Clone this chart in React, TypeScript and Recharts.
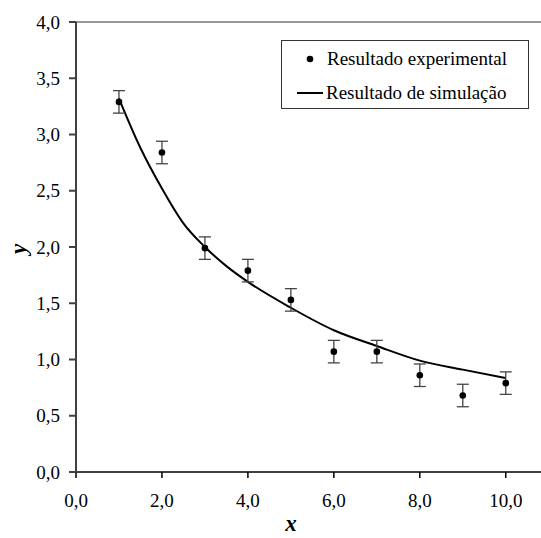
import React from 'react';
import { ComposedChart, Scatter, Line, XAxis, YAxis, ErrorBar, ReferenceLine, Label } from 'recharts';

// experimental points (x, y, error)
const expX = [1, 2, 3, 4, 5, 6, 7, 8, 9, 10];
const expY = [3.29, 2.84, 1.99, 1.79, 1.53, 1.07, 1.07, 0.86, 0.68, 0.79];
const expErr = [0.1, 0.1, 0.1, 0.1, 0.1, 0.1, 0.1, 0.1, 0.1, 0.1];

// simulation curve
const simX = [1, 1.5, 2, 2.5, 3, 3.5, 4, 5, 6, 7, 8, 9, 10];
const simY = [3.32, 2.88, 2.52, 2.21, 2.0, 1.83, 1.69, 1.46, 1.26, 1.12, 0.99, 0.91, 0.835];

const xTicks = [0, 2, 4, 6, 8, 10];
const yTicks = [0, 0.5, 1, 1.5, 2, 2.5, 3, 3.5, 4];

const FONT = '"Liberation Serif", Tinos, "DejaVu Serif", serif';

const expData = expX.map((x, i) => ({ x, y: expY[i], err: expErr[i] }));
const simData = simX.map((x, i) => ({ x, y: simY[i] }));

const fmt = (v: number) => v.toFixed(1).replace('.', ',');

const Dot = (props: any) => <circle cx={props.cx} cy={props.cy} r={3.3} fill="#000" />;

const LegendBox = () => (
  <div
    style={{
      position: 'absolute',
      left: 281,
      top: 40,
      width: 246,
      height: 67,
      border: '1px solid #333',
      background: '#fff',
      fontFamily: FONT,
      fontSize: 19,
      lineHeight: '22px',
      color: '#000',
    }}
  >
    <svg width={46} height={67} style={{ position: 'absolute', left: 0, top: 0 }}>
      <circle cx={28} cy={18} r={3.3} fill="#000" />
      <line x1={15} x2={41} y1={52} y2={52} stroke="#000" strokeWidth={2} />
    </svg>
    <div style={{ position: 'absolute', left: 45, top: 7, whiteSpace: 'nowrap' }}>Resultado experimental</div>
    <div style={{ position: 'absolute', left: 44, top: 41, whiteSpace: 'nowrap' }}>Resultado de simulação</div>
  </div>
);

export default function App() {
  return (
    <div style={{ position: 'absolute', left: 0, top: 0, width: 541, height: 538, background: '#fff', overflow: 'hidden' }}>
      <ComposedChart width={541} height={538} margin={{ top: 22, right: 0, bottom: 0, left: 0 }}>
        <XAxis
          dataKey="x"
          type="number"
          domain={[0, 10.82]}
          ticks={xTicks}
          tickFormatter={fmt}
          height={66}
          tickSize={6}
          tickMargin={16}
          stroke="#000"
          strokeWidth={1.5}
          tick={{ fill: '#000', fontSize: 19, fontFamily: FONT }}
          allowDataOverflow
        >
          <Label
            content={() => (
              <text x={291} y={531} textAnchor="middle" fontFamily={FONT} fontSize={23} fontWeight="bold" fontStyle="italic" fill="#000">
                x
              </text>
            )}
          />
        </XAxis>
        <YAxis
          type="number"
          domain={[0, 4]}
          ticks={yTicks}
          tickFormatter={fmt}
          width={76}
          tickSize={7}
          tickMargin={9}
          stroke="#404040"
          strokeWidth={2}
          tick={{ fill: '#000', fontSize: 19, fontFamily: FONT }}
        >
          <Label
            content={() => (
              <text x={26} y={249} transform="rotate(-90 26 249)" textAnchor="middle" fontFamily={FONT} fontSize={23} fontWeight="bold" fontStyle="italic" fill="#000">
                y
              </text>
            )}
          />
        </YAxis>
        <ReferenceLine y={4} stroke="#333" strokeWidth={1.2} />
        <Line
          data={simData}
          dataKey="y"
          type="monotone"
          stroke="#000"
          strokeWidth={2}
          dot={false}
          isAnimationActive={false}
        />
        <Scatter data={expData} dataKey="y" shape={Dot} isAnimationActive={false}>
          <ErrorBar dataKey="err" direction="y" width={6} stroke="#444" strokeWidth={1.3} />
        </Scatter>
      </ComposedChart>
      <LegendBox />
    </div>
  );
}
